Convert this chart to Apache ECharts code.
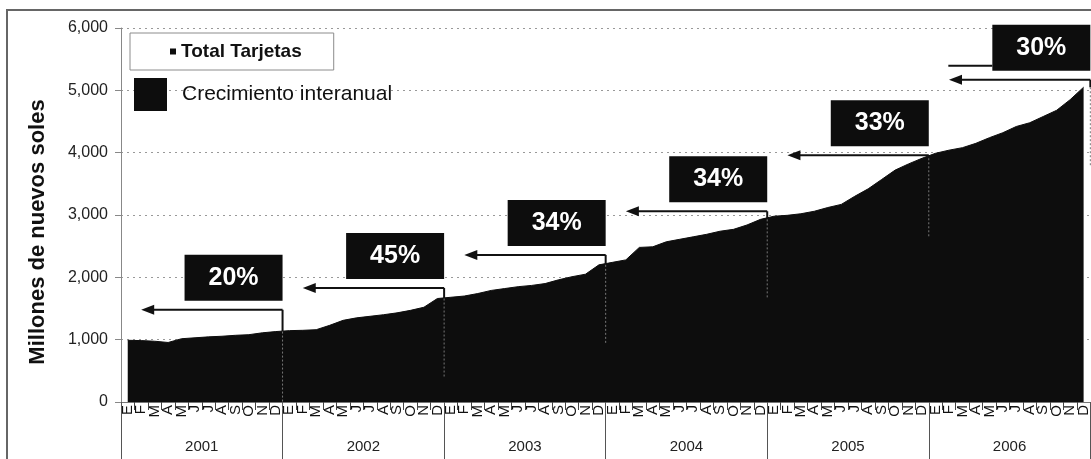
<!DOCTYPE html>
<html>
<head>
<meta charset="utf-8">
<script src="https://cdn.jsdelivr.net/npm/echarts@6/dist/echarts.min.js"></script>
<style>
html,body{margin:0;padding:0;background:#fff;}
#chart{width:1091px;height:459px;}
</style>
</head>
<body>
<div id="chart"></div>
<script>
const FONT = '"Liberation Sans", Arial, sans-serif';
const years = ['2001', '2002', '2003', '2004', '2005', '2006'];
const months = ['E', 'F', 'M', 'A', 'M', 'J', 'J', 'A', 'S', 'O', 'N', 'D'];
const totalTarjetas = [
  990, 985, 975, 955, 1015, 1030, 1045, 1055, 1070, 1080, 1110, 1130,
  1145, 1150, 1160, 1230, 1310, 1350, 1375, 1400, 1430, 1470, 1520, 1660,
  1680, 1700, 1740, 1790, 1820, 1850, 1870, 1900, 1960, 2010, 2050, 2200,
  2240, 2280, 2480, 2490, 2570, 2610, 2650, 2690, 2740, 2770, 2840, 2930,
  2980, 2995, 3020, 3060, 3120, 3170, 3300, 3420, 3570, 3720, 3820, 3910,
  3990, 4040, 4080, 4150, 4240, 4320, 4420, 4480, 4580, 4680, 4850, 5050
];
const growthLabels = ['20%', '45%', '34%', '34%', '33%', '30%'];
const arrowLevel = [1480, 1830, 2360, 3060, 3960, 5170];

const monthCategories = years.flatMap(() => months);
const growthData = years.map((y, i) => [i * 12 + 11, arrowLevel[i]]);

const chart = echarts.init(document.getElementById('chart'));

function renderGrowth(params, api) {
  const idx = api.value(0);
  const lvl = api.value(1);
  const p = api.coord([idx, lvl]);
  const band = api.size([1, 0])[0];
  const xr = p[0] + band / 2;
  const y = p[1];
  const top = api.coord([idx, totalTarjetas[idx]])[1];
  const boxW = 98, boxH = 46;
  const tipX = xr - 10.5 * band;
  const children = [
    { type: 'rect', shape: { x: xr - boxW, y: y - 9 - boxH, width: boxW, height: boxH },
      style: { fill: '#0d0d0d' } },
    { type: 'text', x: xr - boxW / 2, y: y - 9 - boxH / 2,
      style: { text: growthLabels[params.dataIndex], fill: '#fff', font: 'bold 25px ' + FONT,
        align: 'center', verticalAlign: 'middle' } },
    { type: 'line', shape: { x1: xr, y1: y, x2: tipX + 10, y2: y },
      style: { stroke: '#111', lineWidth: 2 } },
    { type: 'polygon', shape: { points: [[tipX, y], [tipX + 13, y - 5], [tipX + 13, y + 5]] },
      style: { fill: '#111' } },
    { type: 'line', shape: { x1: xr, y1: y, x2: xr, y2: top },
      style: { stroke: '#111', lineWidth: 2 } },
    { type: 'line', shape: { x1: xr, y1: top, x2: xr, y2: top + 80 },
      style: { stroke: '#777', lineWidth: 1, lineDash: [2, 2] } }
  ];
  if (params.dataIndex === growthData.length - 1) {
    children.push({ type: 'line', shape: { x1: xr - boxW - 44, y1: y - 14, x2: xr - boxW, y2: y - 14 },
      style: { stroke: '#111', lineWidth: 2 } });
  }
  return { type: 'group', children };
}

chart.setOption({
  animation: false,
  backgroundColor: '#fff',
  textStyle: { fontFamily: FONT },
  grid: { left: 121, right: -14, top: 28, bottom: 57 },
  legend: [
    {
      data: ['Total Tarjetas'], left: 130, top: 33, icon: 'rect', itemWidth: 6, itemHeight: 6,
      borderColor: '#8c8c8c', borderWidth: 1, padding: [9, 32, 9, 40], selectedMode: false,
      textStyle: { fontSize: 19, fontWeight: 'bold', color: '#111', fontFamily: FONT }
    },
    {
      data: ['Crecimiento interanual'], left: 134, top: 78, icon: 'rect', itemWidth: 33, itemHeight: 33,
      padding: 0, selectedMode: false,
      textStyle: { fontSize: 21, color: '#111', fontFamily: FONT, padding: [0, 0, 0, 10] }
    }
  ],
  xAxis: [
    {
      type: 'category', data: monthCategories, boundaryGap: true, position: 'bottom',
      axisLine: { show: true, lineStyle: { color: '#777', width: 1 } },
      axisTick: { show: true, interval: 0, length: 8, lineStyle: { color: '#444', width: 1 } },
      axisLabel: { interval: 0, rotate: 90, fontSize: 15, margin: 3, color: '#111', fontFamily: FONT }
    },
    {
      type: 'category', data: years, boundaryGap: true, position: 'bottom',
      axisLine: { show: true, lineStyle: { color: 'rgba(0,0,0,0)' } },
      axisTick: { show: true, interval: 0, length: 60, lineStyle: { color: '#555', width: 1 } },
      axisLabel: { margin: 37, fontSize: 15, color: '#222', fontFamily: FONT }
    }
  ],
  yAxis: {
    type: 'value', min: 0, max: 6000, interval: 1000,
    axisLine: { show: true, lineStyle: { color: '#888' } },
    axisTick: { show: true, length: 6, lineStyle: { color: '#888' } },
    axisLabel: { fontSize: 16, color: '#222', margin: 13, fontFamily: FONT,
      formatter: v => v.toLocaleString('en-US') },
    splitLine: { show: true, lineStyle: { type: [2, 4], color: '#999' } }
  },
  series: [
    {
      name: 'Total Tarjetas', type: 'line', data: totalTarjetas, symbol: 'none',
      xAxisIndex: 0, lineStyle: { color: '#0d0d0d', width: 1 },
      itemStyle: { color: '#0d0d0d' },
      areaStyle: { color: '#0d0d0d', opacity: 1 }
    },
    {
      name: 'Crecimiento interanual', type: 'custom', xAxisIndex: 0, data: growthData,
      itemStyle: { color: '#0d0d0d' }, renderItem: renderGrowth, z: 5, clip: false
    }
  ],
  graphic: [
    { type: 'rect', shape: { x: 7, y: 10, width: 1300, height: 700 },
      style: { fill: 'none', stroke: '#666', lineWidth: 2 }, silent: true, z: 0 },
    { type: 'text', x: 38, y: 232, rotation: Math.PI / 2,
      style: { text: 'Millones de nuevos soles', font: 'bold 22px ' + FONT, fill: '#111',
        align: 'center', verticalAlign: 'middle' }, silent: true }
  ]
});
</script>
</body>
</html>
